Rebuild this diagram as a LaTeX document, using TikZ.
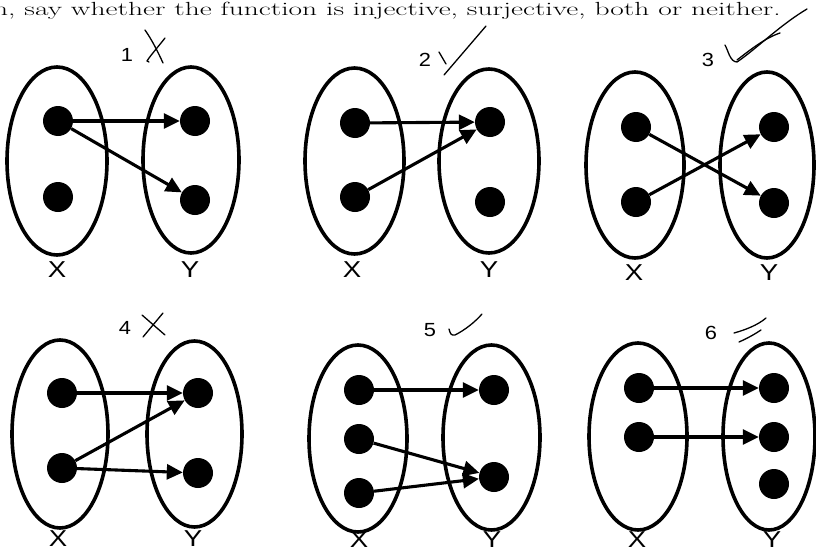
\documentclass[tikz,border=0pt]{standalone}
\usepackage{fontspec}
\usepackage{tikz}
\usetikzlibrary{arrows.meta}
\newfontfamily\labelfont{Liberation Sans}

\begin{document}
\begin{tikzpicture}[x=1pt,y=-1pt,
  setline/.style={line width=3.6pt},
  elem/.style={circle,fill=black,inner sep=0pt,minimum size=30pt},
  mapto/.style={line width=3.1pt,-{Triangle[length=16pt,width=15pt]}},
  setname/.style={font=\labelfont\fontsize{23}{23}\selectfont,inner sep=0pt,xscale=1.2},
  qnum/.style={font=\labelfont\fontsize{19}{19}\selectfont,inner sep=0pt,xscale=1.15},
  pen/.style={line width=1.3pt,line cap=round,line join=round}]

\useasboundingbox (0,0) rectangle (816,554);
\clip (0,0) rectangle (816,554);

% =========================
% QUESTION TEXT (cut at the left)
% =========================
\node[anchor=base east,inner sep=0pt,xscale=1.55,font=\fontsize{19}{19}\selectfont] (task)
at (781,15) {n, say whether the function is injective, surjective, both or neither.};

% =========================
% DIAGRAM 1
% =========================
\draw[setline] (57,161) ellipse [x radius=50pt, y radius=94pt];
\draw[setline] (191,160) ellipse [x radius=48pt, y radius=93pt];
\node[elem] (a1) at (58,121) {};
\node[elem] (a2) at (58,197) {};
\node[elem] (b1) at (195,121) {};
\node[elem] (b2) at (195,200) {};
\draw[mapto] (a1) -- (b1);
\draw[mapto] (a1) -- (b2);
\node[setname] (xa) at (57,270) {X};
\node[setname] (ya) at (190,270) {Y};
\node[qnum] (na) at (127,55) {1};
% marking
\draw[pen] (145,30) .. controls (152,40) and (158,52) .. (163,63);
\draw[pen] (165,38) .. controls (158,47) and (150,56) .. (147,61) -- (149,62);

% =========================
% DIAGRAM 2
% =========================
\draw[setline] (354.5,161) ellipse [x radius=49.5pt, y radius=93pt];
\draw[setline] (489,161) ellipse [x radius=50pt, y radius=92pt];
\node[elem] (c1) at (355,123) {};
\node[elem] (c2) at (355,197) {};
\node[elem] (d1) at (490,122) {};
\node[elem] (d2) at (490,202) {};
\draw[mapto] (c1) -- (d1);
\draw[mapto] (c2) -- (d1);
\node[setname] (xb) at (352,270) {X};
\node[setname] (yb) at (489,270) {Y};
\node[qnum] (nb) at (425,60) {2};
% marking
\draw[pen] (439,52) -- (446,64);
\draw[pen] (444,75) -- (486,26);

% =========================
% DIAGRAM 3
% =========================
\draw[setline] (635,165) ellipse [x radius=49pt, y radius=93pt];
\draw[setline] (767,165) ellipse [x radius=47pt, y radius=93pt];
\node[elem] (e1) at (636,127) {};
\node[elem] (e2) at (636,202) {};
\node[elem] (f1) at (774,127) {};
\node[elem] (f2) at (774,203) {};
\draw[mapto] (e1) -- (f2);
\draw[mapto] (e2) -- (f1);
\node[setname] (xc) at (634,273) {X};
\node[setname] (yc) at (769,273) {Y};
\node[qnum] (nc) at (708,60) {3};
% marking
\draw[pen] (725,45) .. controls (728,50) and (730,62) .. (737,62)
  .. controls (755,50) and (780,25) .. (807,9);
\draw[pen] (737,60) .. controls (750,50) and (765,38) .. (780,33);

% =========================
% DIAGRAM 4
% =========================
\draw[setline] (60,434) ellipse [x radius=48pt, y radius=94pt];
\draw[setline] (194.5,434) ellipse [x radius=47.5pt, y radius=93pt];
\node[elem] (g1) at (62,393) {};
\node[elem] (g2) at (62,468) {};
\node[elem] (h1) at (198,393) {};
\node[elem] (h2) at (198,473) {};
\draw[mapto] (g1) -- (h1);
\draw[mapto] (g2) -- (h1);
\draw[mapto] (g2) -- (h2);
\node[setname] (xd) at (58,539) {X};
\node[setname] (yd) at (193,539) {Y};
\node[qnum] (nd) at (125,328) {4};
% marking
\draw[pen] (142,315) -- (165,335);
\draw[pen] (163,313) -- (143,337);

% =========================
% DIAGRAM 5
% =========================
\draw[setline] (358,438.5) ellipse [x radius=49pt, y radius=93.5pt];
\draw[setline] (491.5,437.5) ellipse [x radius=48.5pt, y radius=92.5pt];
\node[elem] (p1) at (359,390) {};
\node[elem] (p2) at (359,439) {};
\node[elem] (p3) at (359,493) {};
\node[elem] (q1) at (494,390) {};
\node[elem] (q2) at (494,477) {};
\draw[mapto] (p1) -- (q1);
\draw[mapto] (p2) -- (q2);
\draw[mapto] (p3) -- (q2);
\node[setname] (xe) at (359,540) {X};
\node[setname] (ye) at (492,540) {Y};
\node[qnum] (ne) at (430,330) {5};
% marking
\draw[pen] (449,329) .. controls (450,333) and (451,336) .. (455,335)
  .. controls (465,330) and (475,322) .. (482,314);

% =========================
% DIAGRAM 6
% =========================
\draw[setline] (638,436.5) ellipse [x radius=49pt, y radius=93.5pt];
\draw[setline] (769,436.5) ellipse [x radius=46pt, y radius=93.5pt];
\node[elem] (r1) at (639,388) {};
\node[elem] (r2) at (639,437) {};
\node[elem] (s1) at (774,388) {};
\node[elem] (s2) at (774,437) {};
\node[elem] (s3) at (774,484) {};
\draw[mapto] (r1) -- (s1);
\draw[mapto] (r2) -- (s2);
\node[setname] (xf) at (637,540) {X};
\node[setname] (yf) at (772,540) {Y};
\node[qnum] (nf) at (711,333) {6};
% marking
\draw[pen] (734,333) .. controls (745,330) and (758,325) .. (766,318);
\draw[pen] (739,342) .. controls (748,338) and (755,334) .. (761,330);

\end{tikzpicture}
\end{document}
